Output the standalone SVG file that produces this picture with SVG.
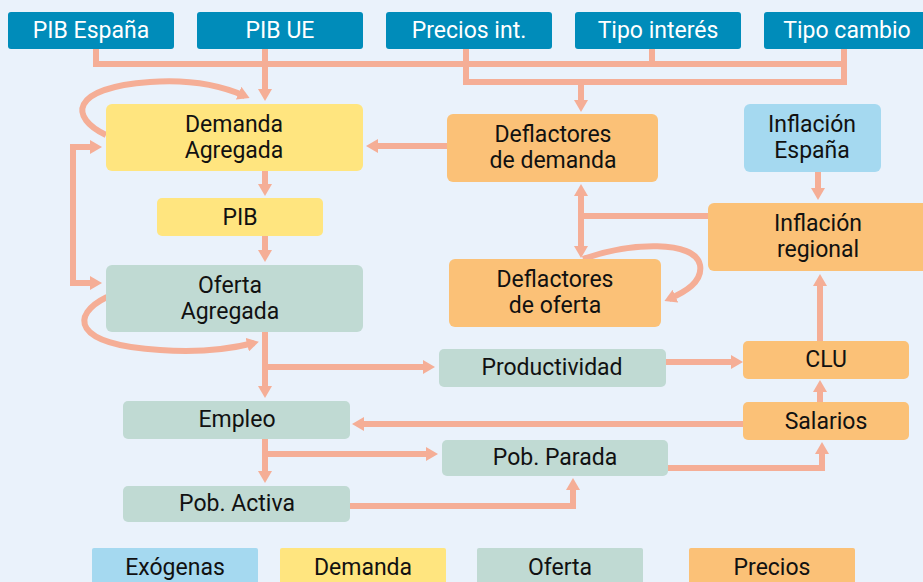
<svg xmlns="http://www.w3.org/2000/svg" width="923" height="582" viewBox="0 0 923 582">
<style>
text{font-family:Roboto,"Liberation Sans",sans-serif;font-size:23px;text-anchor:middle;fill:#111}
.ex rect{fill:#008CBA}
.ex text{fill:#fff}
.ye{fill:#FFE57F}
.gr{fill:#C0DAD3}
.or{fill:#FBC177}
.lb{fill:#A5D9F0}
.c{fill:none;stroke:#F5AE96;stroke-width:6}
.a{marker-end:url(#ah)}
</style>
<defs>
<marker id="ah" markerUnits="userSpaceOnUse" viewBox="0 0 12 14" markerWidth="12" markerHeight="14" refX="7" refY="7" orient="auto"><path d="M0,0 L12,7 L0,14 z" fill="#F5AE96"/></marker>
</defs>
<rect width="923" height="582" fill="#EAF2FB"/>
<g id="connectors">
<path class="c" d="M96,49 V64 H844 M466,49 V82 H844 V49 M652,49 V64"/>
<path class="c a" d="M265,49 V96"/>
<path class="c a" d="M581,82 V107"/>
<path class="c a" d="M447,146 H371"/>
<path class="c a" d="M265,171 V191"/>
<path class="c a" d="M265,236 V257"/>
<path class="c a" d="M73,215 V147 H97"/>
<path class="c a" d="M73,215 V283 H97"/>
<path class="c a" d="M106,135 C70,118 68,88 150,82 C190,79 222,86 245,96"/>
<path class="c a" d="M265,332 V393"/>
<path class="c a" d="M265,367 H430"/>
<path class="c a" d="M107,297 C70,315 72,345 160,350 C200,353 230,349 254,343"/>
<path class="c a" d="M666,362 H738"/>
<path class="c a" d="M743,424 H357"/>
<path class="c a" d="M820,402 V385"/>
<path class="c a" d="M820,341 V279"/>
<path class="c a" d="M818,172 V195"/>
<path class="c" d="M708,216 H581"/>
<path class="c a" d="M581,216 V189"/>
<path class="c a" d="M581,216 V253"/>
<path class="c a" d="M583,259 C630,242 695,240 700,265 C703,282 685,292 669,299"/>
<path class="c a" d="M265,454 H433"/>
<path class="c a" d="M265,439 V478"/>
<path class="c a" d="M350,506 H573 V483"/>
<path class="c a" d="M668,468 H822 V447"/>
</g>
<g id="pib-espana" class="ex"><rect x="8" y="12" width="166" height="37" rx="3"/><text x="91" y="38">PIB España</text></g>
<g id="pib-ue" class="ex"><rect x="197" y="12" width="166" height="37" rx="3"/><text x="280" y="38">PIB UE</text></g>
<g id="precios-int" class="ex"><rect x="386" y="12" width="166" height="37" rx="3"/><text x="469" y="38">Precios int.</text></g>
<g id="tipo-interes" class="ex"><rect x="575" y="12" width="166" height="37" rx="3"/><text x="658" y="38">Tipo interés</text></g>
<g id="tipo-cambio" class="ex"><rect x="764" y="12" width="166" height="37" rx="3"/><text x="847" y="38">Tipo cambio</text></g>
<g id="demanda-agregada"><rect class="ye" x="106" y="104" width="257" height="67" rx="6"/><text x="234" y="132">Demanda</text><text x="234" y="158">Agregada</text></g>
<g id="pib"><rect class="ye" x="157" y="198" width="166" height="38" rx="5"/><text x="240" y="225">PIB</text></g>
<g id="oferta-agregada"><rect class="gr" x="106" y="265" width="257" height="67" rx="6"/><text x="230" y="293">Oferta</text><text x="230" y="319">Agregada</text></g>
<g id="deflactores-demanda"><rect class="or" x="447" y="114" width="211" height="68" rx="6"/><text x="553" y="142">Deflactores</text><text x="553" y="168">de demanda</text></g>
<g id="deflactores-oferta"><rect class="or" x="449" y="259" width="212" height="68" rx="6"/><text x="555" y="287">Deflactores</text><text x="555" y="313">de oferta</text></g>
<g id="inflacion-espana"><rect class="lb" x="744" y="104" width="137" height="68" rx="6"/><text x="812" y="132">Inflación</text><text x="812" y="158">España</text></g>
<g id="inflacion-regional"><rect class="or" x="708" y="203" width="222" height="68" rx="6"/><text x="818" y="231">Inflación</text><text x="818" y="257">regional</text></g>
<g id="productividad"><rect class="gr" x="439" y="349" width="227" height="38" rx="5"/><text x="552" y="375">Productividad</text></g>
<g id="clu"><rect class="or" x="743" y="341" width="166" height="38" rx="5"/><text x="826" y="367">CLU</text></g>
<g id="empleo"><rect class="gr" x="123" y="401" width="227" height="38" rx="5"/><text x="237" y="427">Empleo</text></g>
<g id="salarios"><rect class="or" x="743" y="402" width="166" height="38" rx="5"/><text x="826" y="429">Salarios</text></g>
<g id="pob-parada"><rect class="gr" x="442" y="440" width="226" height="36" rx="5"/><text x="555" y="465">Pob. Parada</text></g>
<g id="pob-activa"><rect class="gr" x="123" y="486" width="227" height="36" rx="5"/><text x="237" y="511">Pob. Activa</text></g>
<g id="legend">
<rect class="lb" x="92" y="548" width="166" height="40" rx="2"/><text x="175" y="575">Exógenas</text>
<rect class="ye" x="280" y="548" width="166" height="40" rx="2"/><text x="363" y="575">Demanda</text>
<rect class="gr" x="477" y="548" width="166" height="40" rx="2"/><text x="560" y="575">Oferta</text>
<rect class="or" x="689" y="548" width="166" height="40" rx="2"/><text x="772" y="575">Precios</text>
</g>
</svg>
